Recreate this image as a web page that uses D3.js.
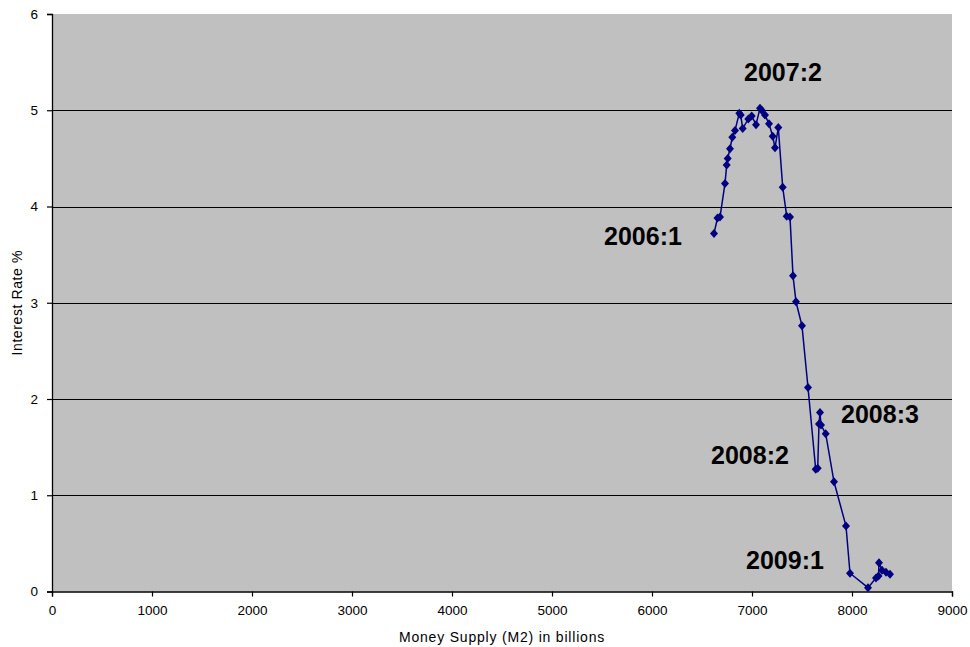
<!DOCTYPE html>
<html>
<head>
<meta charset="utf-8">
<script src="https://cdn.jsdelivr.net/npm/d3@7"></script>
<style>
  html, body { margin: 0; padding: 0; background: #fff; }
  svg { display: block; font-family: "Liberation Sans", Arial, sans-serif; }
</style>
</head>
<body>
<svg id="chart" width="970" height="647"></svg>
<script>
// Money supply (M2, billions) against interest rate (%)
const moneySupply = [6620, 6655, 6680, 6730, 6747, 6757, 6780, 6803, 6830, 6873, 6887, 6907,
  6963, 6997, 7040, 7080, 7097, 7130, 7170, 7207, 7230, 7263, 7307, 7347, 7380, 7410, 7440,
  7500, 7560, 7637, 7657, 7670, 7680, 7690, 7737, 7820, 7940, 7980, 8160, 8240, 8265, 8270,
  8300, 8340, 8380];
const interestRate = [3.72, 3.88, 3.89, 4.24, 4.43, 4.50, 4.60, 4.72, 4.79, 4.97, 4.95, 4.81,
  4.91, 4.94, 4.85, 5.02, 5.00, 4.95, 4.86, 4.73, 4.61, 4.82, 4.20, 3.90, 3.89, 3.28, 3.01,
  2.76, 2.12, 1.27, 1.28, 1.74, 1.86, 1.73, 1.64, 1.14, 0.68, 0.19, 0.04, 0.14, 0.16, 0.30,
  0.22, 0.20, 0.18];
const xTicks = [0, 1000, 2000, 3000, 4000, 5000, 6000, 7000, 8000, 9000];
const yTicks = [0, 1, 2, 3, 4, 5, 6];
// period annotations, positioned in data units (centre of each label)
const periodLabels = ["2006:1", "2007:2", "2008:3", "2008:2", "2009:1"];
const periodLabelX = [5910, 7310, 8280, 6980, 7330];
const periodLabelY = [3.69, 5.40, 1.84, 1.42, 0.33];

const svg = d3.select("#chart");
const margin = { left: 52, top: 14, right: 18, bottom: 55.5 };
const W = 970, H = 647;
const iw = W - margin.left - margin.right;
const ih = H - margin.top - margin.bottom;

const x = d3.scaleLinear().domain([0, 9000]).range([0, iw]);
const y = d3.scaleLinear().domain([0, 6]).range([ih, 0]);

const g = svg.append("g").attr("transform", `translate(${margin.left},${margin.top})`);

// plot area
g.append("rect").attr("width", iw).attr("height", ih).attr("fill", "#c0c0c0");

// horizontal gridlines
g.append("g").selectAll("line")
  .data(yTicks.filter(t => t > 0 && t < 6))
  .join("line")
  .attr("x1", 0).attr("x2", iw)
  .attr("y1", d => Math.round(y(d)) + 0.5).attr("y2", d => Math.round(y(d)) + 0.5)
  .attr("stroke", "#000").attr("stroke-width", 1.2);

// axes
const xAxis = g.append("g").attr("transform", `translate(0,${ih})`)
  .call(d3.axisBottom(x).tickValues(xTicks).tickSize(5).tickPadding(9).tickFormat(d3.format("d")));
const yAxis = g.append("g")
  .call(d3.axisLeft(y).tickValues(yTicks).tickSize(5).tickPadding(9).tickFormat(d3.format("d")));
[xAxis, yAxis].forEach(a => {
  a.select(".domain").attr("stroke", "#000").attr("stroke-width", 1.3);
  a.selectAll(".tick line").attr("stroke", "#000").attr("stroke-width", 1.2);
  a.selectAll(".tick text").attr("fill", "#000").style("font-size", "13.5px")
    .style("font-family", "'Liberation Sans', Arial, sans-serif");
});

// axis titles
svg.append("text")
  .attr("x", margin.left + iw / 2).attr("y", 642)
  .attr("text-anchor", "middle").style("font-size", "14px").style("letter-spacing", "0.8px")
  .attr("fill", "#000")
  .text("Money Supply (M2) in billions");
svg.append("text")
  .attr("transform", `translate(22,${margin.top + ih / 2}) rotate(-90)`)
  .attr("text-anchor", "middle").style("font-size", "14px").style("letter-spacing", "0.6px")
  .attr("fill", "#000")
  .text("Interest Rate %");

// series line and diamond markers
const pts = moneySupply.map((m, i) => [m, interestRate[i]]);
g.append("path")
  .datum(pts)
  .attr("fill", "none").attr("stroke", "#000080").attr("stroke-width", 1.5)
  .attr("d", d3.line().x(d => x(d[0])).y(d => y(d[1])));
g.append("g").selectAll("path")
  .data(pts)
  .join("path")
  .attr("transform", d => `translate(${x(d[0])},${y(d[1])})`)
  .attr("d", "M0,-4.5L4,0L0,4.5L-4,0Z")
  .attr("fill", "#000080");

// period annotations
g.append("g").selectAll("text")
  .data(periodLabels)
  .join("text")
  .attr("x", (d, i) => x(periodLabelX[i]))
  .attr("y", (d, i) => y(periodLabelY[i]))
  .attr("text-anchor", "middle").attr("dominant-baseline", "central")
  .style("font-size", "25px").style("font-weight", "bold").attr("fill", "#000")
  .text(d => d);
</script>
</body>
</html>
